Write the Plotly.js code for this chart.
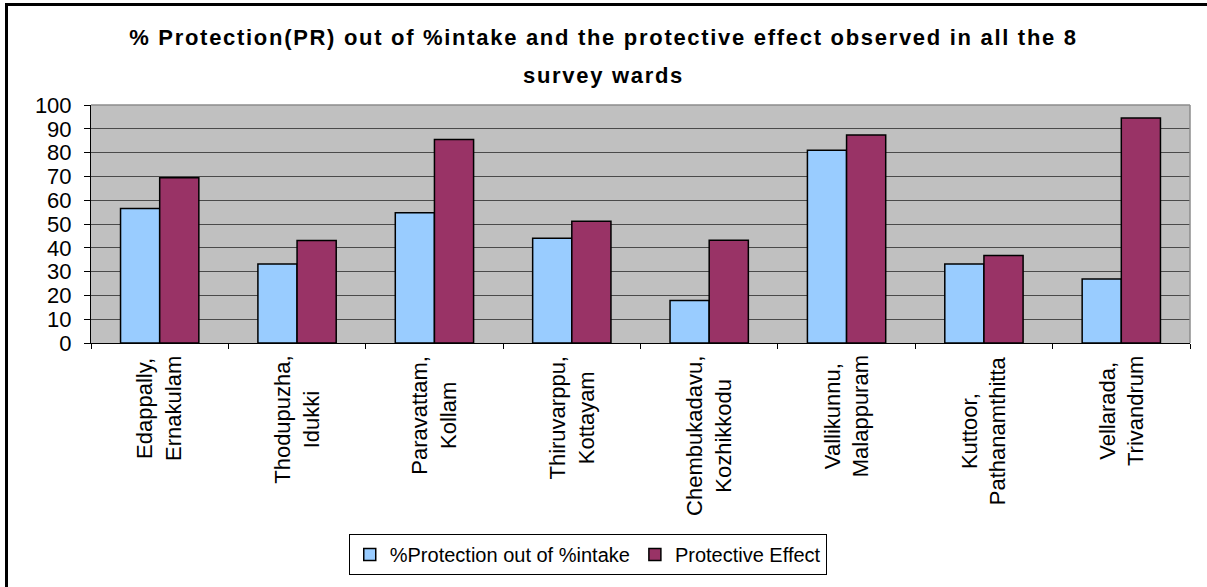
<!DOCTYPE html>
<html>
<head>
<meta charset="utf-8">
<script src="https://cdn.plot.ly/plotly-3.0.1.min.js"></script>
<style>
  html, body { margin: 0; padding: 0; background: #fff; }
  #wrap { position: relative; width: 1207px; height: 587px; overflow: hidden; }
  #chart { width: 1207px; height: 587px; }
  #frame { position: absolute; left: 5px; top: 3px; width: 1300px; height: 700px;
           border-left: 3px solid #000; border-top: 3px solid #000; pointer-events: none; }
  .gtitle { letter-spacing: 1.7px; }
</style>
</head>
<body>
<div id="wrap"><div id="chart"></div><div id="frame"></div></div>
<script>
const categories = [
  "Edappally,<br>Ernakulam",
  "Thodupuzha,<br>Idukki",
  "Paravattam,<br>Kollam",
  "Thiruvarppu,<br>Kottayam",
  "Chembukadavu,<br>Kozhikkodu",
  "Vallikunnu,<br>Malappuram",
  "Kuttoor,<br>Pathanamthitta",
  "Vellarada,<br>Trivandrum"
];
const protectionOutOfIntake = [56.5, 33.2, 54.7, 44.0, 17.9, 81.0, 33.2, 26.9];
const protectiveEffect = [69.4, 43.1, 85.5, 51.2, 43.2, 87.4, 36.8, 94.5];
const seriesNames = ["%Protection out of %intake", "Protective Effect"];
const yTicks = [0, 10, 20, 30, 40, 50, 60, 70, 80, 90, 100];

const font = "Liberation Sans, Arial, sans-serif";

const traces = [
  { type: "bar", name: seriesNames[0], x: categories, y: protectionOutOfIntake,
    marker: { color: "#99ccff", line: { color: "#000", width: 1.5 } } },
  { type: "bar", name: seriesNames[1], x: categories, y: protectiveEffect,
    marker: { color: "#993366", line: { color: "#000", width: 1.5 } } }
];

const annotations = categories.map(c => ({
  x: c, xref: "x", y: -0.045, yref: "paper",
  text: c, showarrow: false, textangle: -90,
  xanchor: "center", yanchor: "top", align: "center",
  font: { family: font, size: 22, color: "#000" }
}));

const layout = {
  width: 1207, height: 587,
  margin: { l: 91, r: 17, t: 105, b: 239 },
  paper_bgcolor: "#fff",
  plot_bgcolor: "#c0c0c0",
  barmode: "group",
  bargap: 0.43,
  bargroupgap: 0,
  title: {
    text: "% Protection(PR) out of %intake and the protective effect observed in all the 8<br>survey wards",
    font: { family: font, size: 22, color: "#000", weight: "bold" },
    x: 0.5, xref: "container", xanchor: "center",
    y: 0.924, yref: "container", yanchor: "top"
  },
  xaxis: {
    type: "category",
    showticklabels: false,
    showline: true, linecolor: "#000", linewidth: 1,
    ticks: "outside", tickson: "boundaries", ticklen: 5, tickcolor: "#000",
    showgrid: false, zeroline: false,
    range: [-0.5, categories.length - 0.5]
  },
  yaxis: {
    range: [0, 100],
    tickvals: yTicks,
    ticktext: yTicks.map(String),
    showline: true, linecolor: "#000", linewidth: 1,
    ticks: "outside", ticklen: 6, tickcolor: "#000",
    showgrid: true, gridcolor: "#4a4a4a", gridwidth: 1,
    zeroline: false,
    tickfont: { family: font, size: 22, color: "#000" },
    ticklabelstandoff: 8
  },
  shapes: [
    { type: "line", xref: "paper", yref: "paper", x0: 0, x1: 1, y0: 1, y1: 1,
      line: { color: "#8c8c8c", width: 1.5 } },
    { type: "line", xref: "paper", yref: "paper", x0: 1, x1: 1, y0: 0, y1: 1,
      line: { color: "#8c8c8c", width: 1.5 } }
  ],
  annotations: annotations,
  showlegend: true,
  legend: {
    orientation: "h",
    x: 0.452, xanchor: "center",
    y: -0.975, yanchor: "bottom",
    bgcolor: "#fff", bordercolor: "#000", borderwidth: 1,
    font: { family: font, size: 20, color: "#000" },
    itemwidth: 30,
    traceorder: "normal"
  }
};

Plotly.newPlot("chart", traces, layout, { staticPlot: true, displayModeBar: false }).then(gd => {
  const lines = gd.querySelectorAll(".gtitle tspan.line");
  if (lines.length > 1) lines[1].setAttribute("dy", "1.75em");
});
</script>
</body>
</html>
